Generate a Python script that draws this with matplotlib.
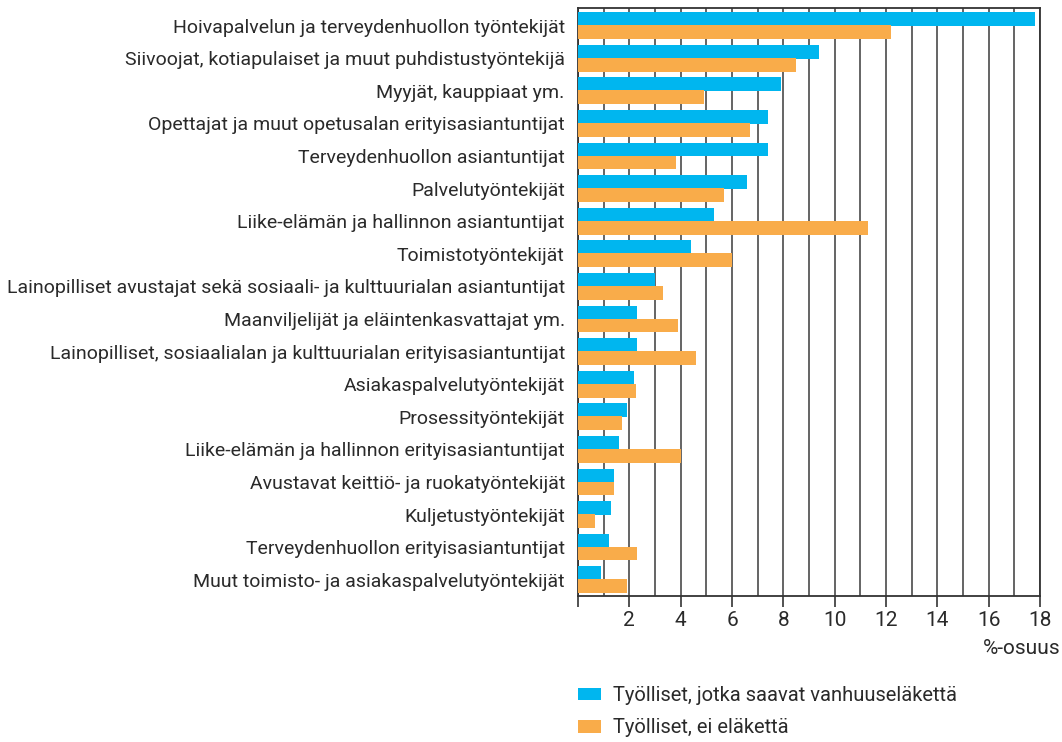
import matplotlib
matplotlib.use("Agg")
import matplotlib.pyplot as plt
import numpy as np

categories = [
    "Hoivapalvelun ja terveydenhuollon työntekijät",
    "Siivoojat, kotiapulaiset ja muut puhdistustyöntekijä",
    "Myyjät, kauppiaat ym.",
    "Opettajat ja muut opetusalan erityisasiantuntijat",
    "Terveydenhuollon asiantuntijat",
    "Palvelutyöntekijät",
    "Liike-elämän ja hallinnon asiantuntijat",
    "Toimistotyöntekijät",
    "Lainopilliset avustajat sekä sosiaali- ja kulttuurialan asiantuntijat",
    "Maanviljelijät ja eläintenkasvattajat ym.",
    "Lainopilliset, sosiaalialan ja kulttuurialan erityisasiantuntijat",
    "Asiakaspalvelutyöntekijät",
    "Prosessityöntekijät",
    "Liike-elämän ja hallinnon erityisasiantuntijat",
    "Avustavat keittiö- ja ruokatyöntekijät",
    "Kuljetustyöntekijät",
    "Terveydenhuollon erityisasiantuntijat",
    "Muut toimisto- ja asiakaspalvelutyöntekijät",
]
pensioners = [17.8, 9.4, 7.9, 7.4, 7.4, 6.6, 5.3, 4.4, 3.0, 2.3, 2.3, 2.2, 1.9, 1.6, 1.4, 1.3, 1.2, 0.9]
no_pension = [12.2, 8.5, 4.9, 6.7, 3.8, 5.7, 11.3, 6.0, 3.3, 3.9, 4.6, 2.25, 1.7, 4.0, 1.4, 0.65, 2.3, 1.9]
series_labels = ["Työlliset, jotka saavat vanhuuseläkettä", "Työlliset, ei eläkettä"]
xticks = [0, 2, 4, 6, 8, 10, 12, 14, 16, 18]
xtick_labels = ["", "2", "4", "6", "8", "10", "12", "14", "16", "18"]

BLUE = "#00B6EF"
ORANGE = "#F9AC4A"
TXT = "#2a2a2a"

plt.rcParams['font.family'] = ['Roboto', 'DejaVu Sans']

W, H = 1062, 742
fig = plt.figure(figsize=(W / 100, H / 100), dpi=100)
ax = fig.add_axes([578 / W, 1 - 596 / H, (1040 - 578) / W, (596 - 8) / H])

y = np.arange(len(categories))
bh = 0.42
off = 0.2
ax.barh(y - off, pensioners, height=bh, color=BLUE, label=series_labels[0], zorder=3)
ax.barh(y + off, no_pension, height=bh, color=ORANGE, label=series_labels[1], zorder=3)

ax.set_ylim(len(categories) - 0.5, -0.54)
ax.set_xlim(0, 18)

ax.set_yticks(y)
ax.set_yticklabels(categories, fontsize=14, color=TXT)
ax.tick_params(axis='y', length=0, pad=9.5)

ax.set_xticks(xticks)
ax.set_xticklabels(xtick_labels, fontsize=15, color=TXT)
ax.tick_params(axis='x', direction='out', length=8, width=1.2, color='#333333', pad=3)
ax.set_xticks(np.arange(1, 18, 2), minor=True)
ax.tick_params(axis='x', which='minor', length=0)

ax.grid(True, axis='x', which='both', color='#3a3a3a', linewidth=1.1, zorder=1)
ax.set_axisbelow(True)
for s in ax.spines.values():
    s.set_color('#333333')
    s.set_linewidth(1.3)

fig.text(1060 / W, 1 - 648 / H, "%-osuus", ha='right', va='center', fontsize=15, color=TXT)

handles, labels = ax.get_legend_handles_labels()
fig.legend(handles, labels, loc='upper left', bbox_to_anchor=(578 / W, 1 - 686 / H),
           frameon=False, fontsize=14.5, handlelength=1.15, handleheight=0.6,
           handletextpad=0.6, labelspacing=0.66, borderpad=0, borderaxespad=0,
           labelcolor=TXT)

fig.savefig("out.png", dpi=100)
